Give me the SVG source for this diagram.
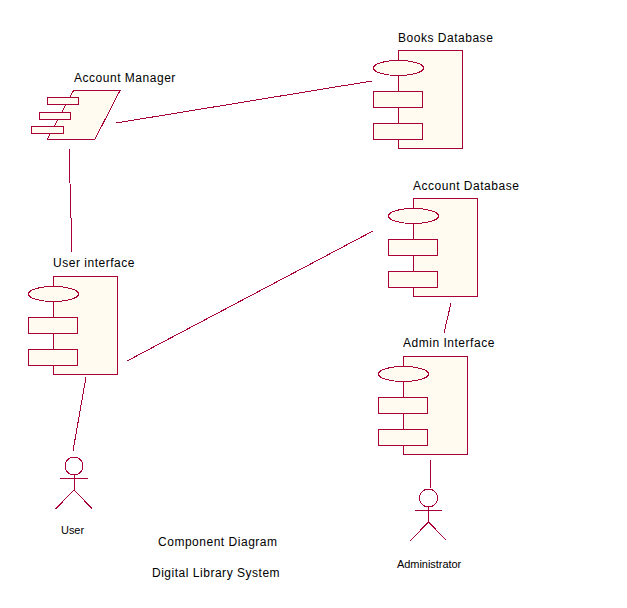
<svg xmlns="http://www.w3.org/2000/svg" width="627" height="608" viewBox="0 0 627 608">
<style>
.s{fill:#FFFBF0;stroke:#A80036;stroke-width:1;shape-rendering:crispEdges}
.l{fill:none;stroke:#A80036;stroke-width:1;shape-rendering:crispEdges}
text{font-family:"Liberation Sans",Arial,sans-serif;font-size:12px;fill:#000;letter-spacing:.52px}
.sm{font-size:11px;letter-spacing:-.05px}
</style>
<defs>
<g id="comp">
<rect class="s" x="0" y="0" width="63.500" height="98"/>
<path class="l" d="M0 25V41M0 56.500V73"/>
<ellipse class="s" cx="0" cy="17.500" rx="25" ry="7.500"/>
<rect class="s" x="-25" y="41" width="49" height="16"/>
<rect class="s" x="-25" y="73" width="49" height="16"/>
</g>
<g id="actor">
<circle class="l" cx="0" cy="0" r="9"/>
<path class="l" d="M-14 12H13.500M0 9V24M0 24L-18.500 43M0 24L18 42.500"/>
</g>
</defs>
<g id="connectors">
<path class="l" d="M116 123L372 81"/>
<path class="l" d="M69 148L72 252"/>
<path class="l" d="M127 361L373 231"/>
<path class="l" d="M86 377L73 451"/>
<path class="l" d="M451 303L444 333"/>
<path class="l" d="M430 460L431 488"/>
</g>
<g id="account-manager">
<path class="s" d="M73.500 90.500H120L95 139H47.500Z"/>
<rect class="s" x="47.500" y="97.500" width="31" height="7"/>
<rect class="s" x="39.500" y="112.500" width="31" height="6.500"/>
<rect class="s" x="31.500" y="126.500" width="32" height="7"/>
<text x="74" y="82">Account Manager</text>
</g>
<g id="books-database">
<use href="#comp" x="398.500" y="50.500"/>
<text x="398" y="42">Books Database</text>
</g>
<g id="account-database">
<use href="#comp" x="413.500" y="198.500"/>
<text x="413" y="190">Account Database</text>
</g>
<g id="user-interface">
<use href="#comp" x="53.500" y="276.500"/>
<text x="53" y="267">User interface</text>
</g>
<g id="admin-interface">
<use href="#comp" x="403.500" y="356.500"/>
<text x="403" y="347">Admin Interface</text>
</g>
<g id="user">
<use href="#actor" x="74" y="466"/>
<text class="sm" x="61" y="534">User</text>
</g>
<g id="administrator">
<use href="#actor" x="428.500" y="498"/>
<text class="sm" x="397" y="568">Administrator</text>
</g>
<g id="titles">
<text x="158" y="546">Component Diagram</text>
<text x="152" y="577">Digital Library System</text>
</g>
</svg>
